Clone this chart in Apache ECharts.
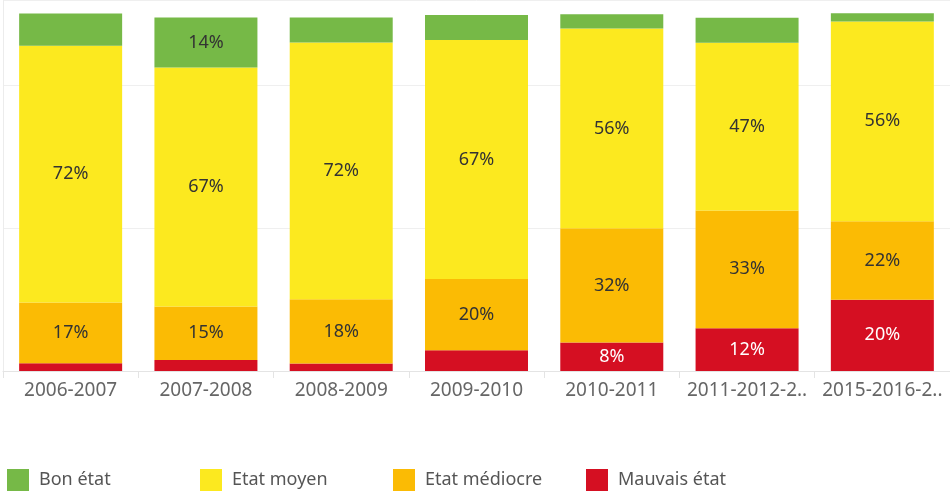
<!DOCTYPE html>
<html>
<head>
<meta charset="utf-8">
<script src="https://cdn.jsdelivr.net/npm/echarts@6/dist/echarts.min.js"></script>
<style>
	html, body { margin: 0; padding: 0; background: #fff; }
	#myChart { width: 950px; height: 494px; }
</style>
</head>
<body>
<div id="myChart"></div>
<script>
// categories (as shown, Tableau truncates the last two)
const categories = ['2006-2007', '2007-2008', '2008-2009', '2009-2010', '2010-2011', '2011-2012-2..', '2015-2016-2..'];

// share of each state, % (unlabelled segments)
const bonEtat = [9, 14, 7, 7, 4, 7, 2.3];
const etatMoyen = [72, 67, 72, 67, 56, 47, 56];
const etatMediocre = [17, 15, 18, 20, 32, 33, 22];
const mauvaisEtat = [2.2, 3.1, 2.1, 5.8, 8, 12, 20];

const legendNames = ['Bon état', 'Etat moyen', 'Etat médiocre', 'Mauvais état'];

const FONT = '"Noto Sans", sans-serif';

// Tableau only labels the segments that are tall enough
function withLabels(values, minShown) {
	return values.map(v => ({
		value: v,
		label: { show: v >= minShown }
	}));
}

function makeSeries(name, values, color, textColor, minShown) {
	return {
		name: name,
		type: 'bar',
		stack: 'total',
		barWidth: 103,
		itemStyle: { color: color },
		label: {
			position: 'inside',
			color: textColor,
			fontFamily: FONT,
			fontSize: 18,
			formatter: p => Math.round(p.value) + '%'
		},
		emphasis: { disabled: true },
		data: withLabels(values, minShown)
	};
}

// one legend per item so they sit on an even 193px pitch
const legends = legendNames.map((name, i) => ({
	left: 7 + i * 193,
	top: 469,
	padding: 0,
	icon: 'rect',
	itemWidth: 22,
	itemHeight: 22,
	selectedMode: false,
	data: [name],
	textStyle: {
		color: '#555',
		fontFamily: FONT,
		fontSize: 18,
		padding: [0, 0, 0, 5]
	}
}));

const myChart = echarts.init(document.getElementById('myChart'));
const option = {
	animation: false,
	grid: {
		left: 3,
		right: -11,
		top: 0,
		bottom: 123
	},
	legend: legends,
	xAxis: {
		type: 'category',
		data: categories,
		axisLine: { show: true, lineStyle: { color: '#e4e4e4' } },
		axisTick: { show: true, length: 7, lineStyle: { color: '#e4e4e4' } },
		axisLabel: {
			color: '#666',
			fontFamily: FONT,
			fontSize: 19,
			margin: 10,
			interval: 0
		}
	},
	yAxis: {
		type: 'value',
		min: 0,
		max: 104,
		interval: 40,
		axisLabel: { show: false },
		axisTick: { show: false },
		axisLine: { show: true, lineStyle: { color: '#ececec' } },
		splitLine: { show: true, lineStyle: { color: '#efefef' } }
	},
	series: [
		makeSeries('Mauvais état', mauvaisEtat, '#d50f22', '#fff', 8),
		makeSeries('Etat médiocre', etatMediocre, '#fbbb04', '#333', 8),
		makeSeries('Etat moyen', etatMoyen, '#fce91f', '#333', 8),
		makeSeries('Bon état', bonEtat, '#76b947', '#333', 10)
	]
};
myChart.setOption(option);
</script>
</body>
</html>
